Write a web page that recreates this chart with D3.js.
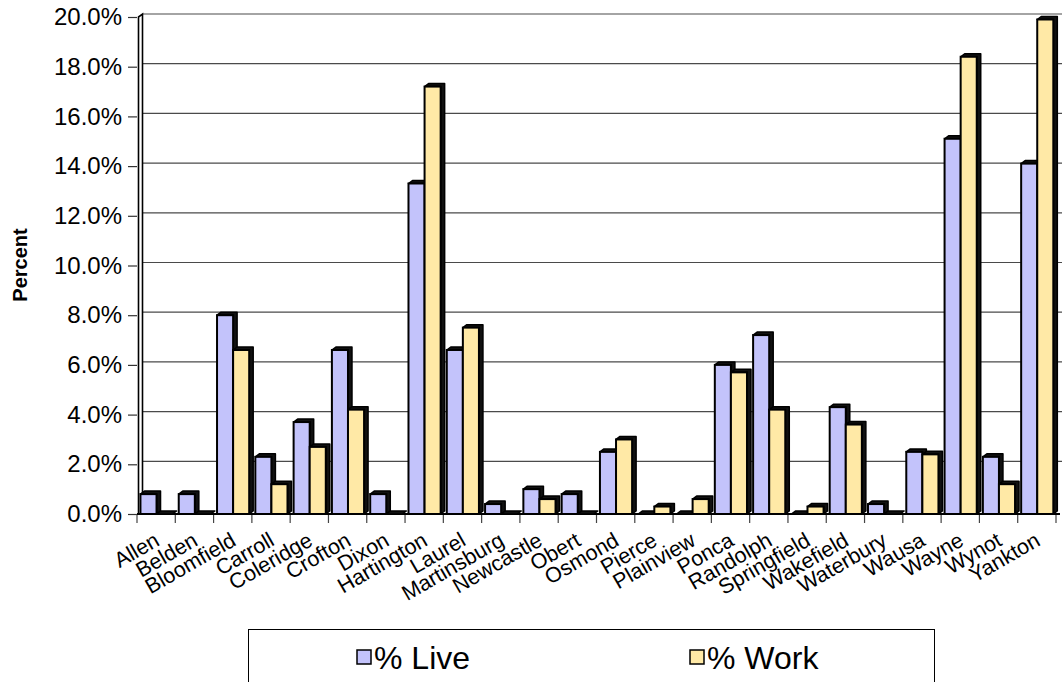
<!DOCTYPE html>
<html>
<head>
<meta charset="utf-8">
<script src="https://cdn.jsdelivr.net/npm/d3@7/dist/d3.min.js"></script>
<style>
  html, body { margin: 0; padding: 0; background: #fff; }
  svg { display: block; font-family: "Liberation Sans", Arial, sans-serif; }
</style>
</head>
<body>
<svg id="chart" width="1062" height="682"></svg>
<script>
// Share of residents living / working in each town
const towns = ["Allen", "Belden", "Bloomfield", "Carroll", "Coleridge", "Crofton", "Dixon",
  "Hartington", "Laurel", "Martinsburg", "Newcastle", "Obert", "Osmond", "Pierce",
  "Plainview", "Ponca", "Randolph", "Springfield", "Wakefield", "Waterbury", "Wausa",
  "Wayne", "Wynot", "Yankton"];
const pctLive = [0.8, 0.8, 8.0, 2.3, 3.7, 6.6, 0.8, 13.3, 6.6, 0.4, 1.0, 0.8, 2.5, 0.0,
  0.0, 6.0, 7.2, 0.0, 4.3, 0.4, 2.5, 15.1, 2.3, 14.1];
const pctWork = [0.0, 0.0, 6.6, 1.2, 2.7, 4.2, 0.0, 17.2, 7.5, 0.0, 0.6, 0.0, 3.0, 0.3,
  0.6, 5.7, 4.2, 0.3, 3.6, 0.0, 2.4, 18.4, 1.2, 19.9];
const seriesNames = ["% Live", "% Work"];
const seriesColors = ["#c3c3fb", "#ffe9a6"];
const yTicks = [0, 2, 4, 6, 8, 10, 12, 14, 16, 18, 20];

const svg = d3.select("#chart");

// plot geometry (front plane) and 3-D depth offset
const x0 = 137, x1 = 1056, yBase = 514, yTop = 17;
const dx = 4, dy = -3;

const x = d3.scaleBand().domain(towns).range([x0, x1]).padding(0);
const xs = d3.scaleBand().domain(seriesNames)
  .range([x.bandwidth() * 0.09, x.bandwidth() * 0.93]).padding(0);
const y = d3.scaleLinear().domain([0, 20]).range([yBase, yTop]);

// back-wall gridlines
svg.append("g").selectAll("line").data(yTicks.slice(1)).join("line")
  .attr("x1", x0 + 2 + dx).attr("x2", 1062)
  .attr("y1", d => y(d) + dy).attr("y2", d => y(d) + dy)
  .attr("stroke", "#4a4a4a").attr("stroke-width", 1.2);

// left wall edges
const wall = svg.append("g").attr("fill", "none").attr("stroke", "#000").attr("stroke-width", 1.6);
wall.append("path").attr("d", `M${x0 + 1.5},${yBase} L${x0 + 1.5},${yTop} L${x0 + 1.5 + dx},${yTop + dy} L${x0 + 1.5 + dx},${yBase + dy}`);

// y axis ticks + labels
const yAxis = d3.axisLeft(y).tickValues(yTicks).tickSize(9).tickPadding(6)
  .tickFormat(d => d.toFixed(1) + "%");
const gy = svg.append("g").attr("transform", `translate(${x0},0)`).call(yAxis);
gy.select(".domain").remove();
gy.selectAll(".tick line").attr("stroke", "#333").attr("stroke-width", 1.2);
gy.selectAll(".tick text").attr("font-size", 24).attr("fill", "#000")
  .attr("font-family", "Liberation Sans, Arial, sans-serif");

// x axis ticks at category boundaries
const bounds = towns.map(t => x(t)).concat([x1]);
svg.append("g").selectAll("line").data(bounds).join("line")
  .attr("x1", d => d).attr("x2", d => d)
  .attr("y1", yBase).attr("y2", yBase + 9)
  .attr("stroke", "#444").attr("stroke-width", 1.2);

// floor edge
svg.append("line").attr("x1", x0).attr("x2", x1 + dx).attr("y1", yBase).attr("y2", yBase)
  .attr("stroke", "#000").attr("stroke-width", 2);

// bars with a shallow 3-D extrusion
const rows = [];
towns.forEach((t, i) => {
  rows.push({ town: t, s: seriesNames[0], v: pctLive[i], c: seriesColors[0] });
  rows.push({ town: t, s: seriesNames[1], v: pctWork[i], c: seriesColors[1] });
});
const bars = svg.append("g").selectAll("g").data(rows).join("g");
bars.append("path")
  .attr("d", d => {
    const l = x(d.town) + xs(d.s), r = l + xs.bandwidth(), t = y(d.v);
    return `M${l},${t} L${l + dx},${t + dy} L${r + dx},${t + dy} L${r + dx},${yBase + dy} L${r},${yBase} L${r},${t} Z`;
  })
  .attr("fill", "#111").attr("stroke", "#000").attr("stroke-width", 1.5).attr("stroke-linejoin", "round");
bars.append("rect")
  .attr("x", d => x(d.town) + xs(d.s))
  .attr("y", d => y(d.v))
  .attr("width", xs.bandwidth())
  .attr("height", d => yBase - y(d.v))
  .attr("fill", d => d.c).attr("stroke", "#000").attr("stroke-width", 2);

// category labels
svg.append("g").selectAll("text").data(towns).join("text")
  .attr("transform", d => `translate(${x(d) + x.bandwidth() / 2 - 3},${yBase + 17}) rotate(-30)`)
  .attr("text-anchor", "end").attr("dy", "0.72em")
  .attr("font-size", 21.5).attr("fill", "#000")
  .text(d => d);

// axis title
svg.append("text")
  .attr("transform", "translate(27,265) rotate(-90)")
  .attr("text-anchor", "middle").attr("font-weight", "bold").attr("font-size", 20)
  .text("Percent");

// legend
const lg = svg.append("g");
lg.append("rect").attr("x", 248.5).attr("y", 629.5).attr("width", 686).attr("height", 70)
  .attr("fill", "#fff").attr("stroke", "#000").attr("stroke-width", 1);
const legendX = [357, 690];
seriesNames.forEach((n, i) => {
  lg.append("rect").attr("x", legendX[i]).attr("y", 650).attr("width", 14).attr("height", 14)
    .attr("fill", seriesColors[i]).attr("stroke", "#000").attr("stroke-width", 1.5);
  lg.append("text").attr("x", legendX[i] + 17).attr("y", 669)
    .attr("font-size", 32).text(n);
});
</script>
</body>
</html>
